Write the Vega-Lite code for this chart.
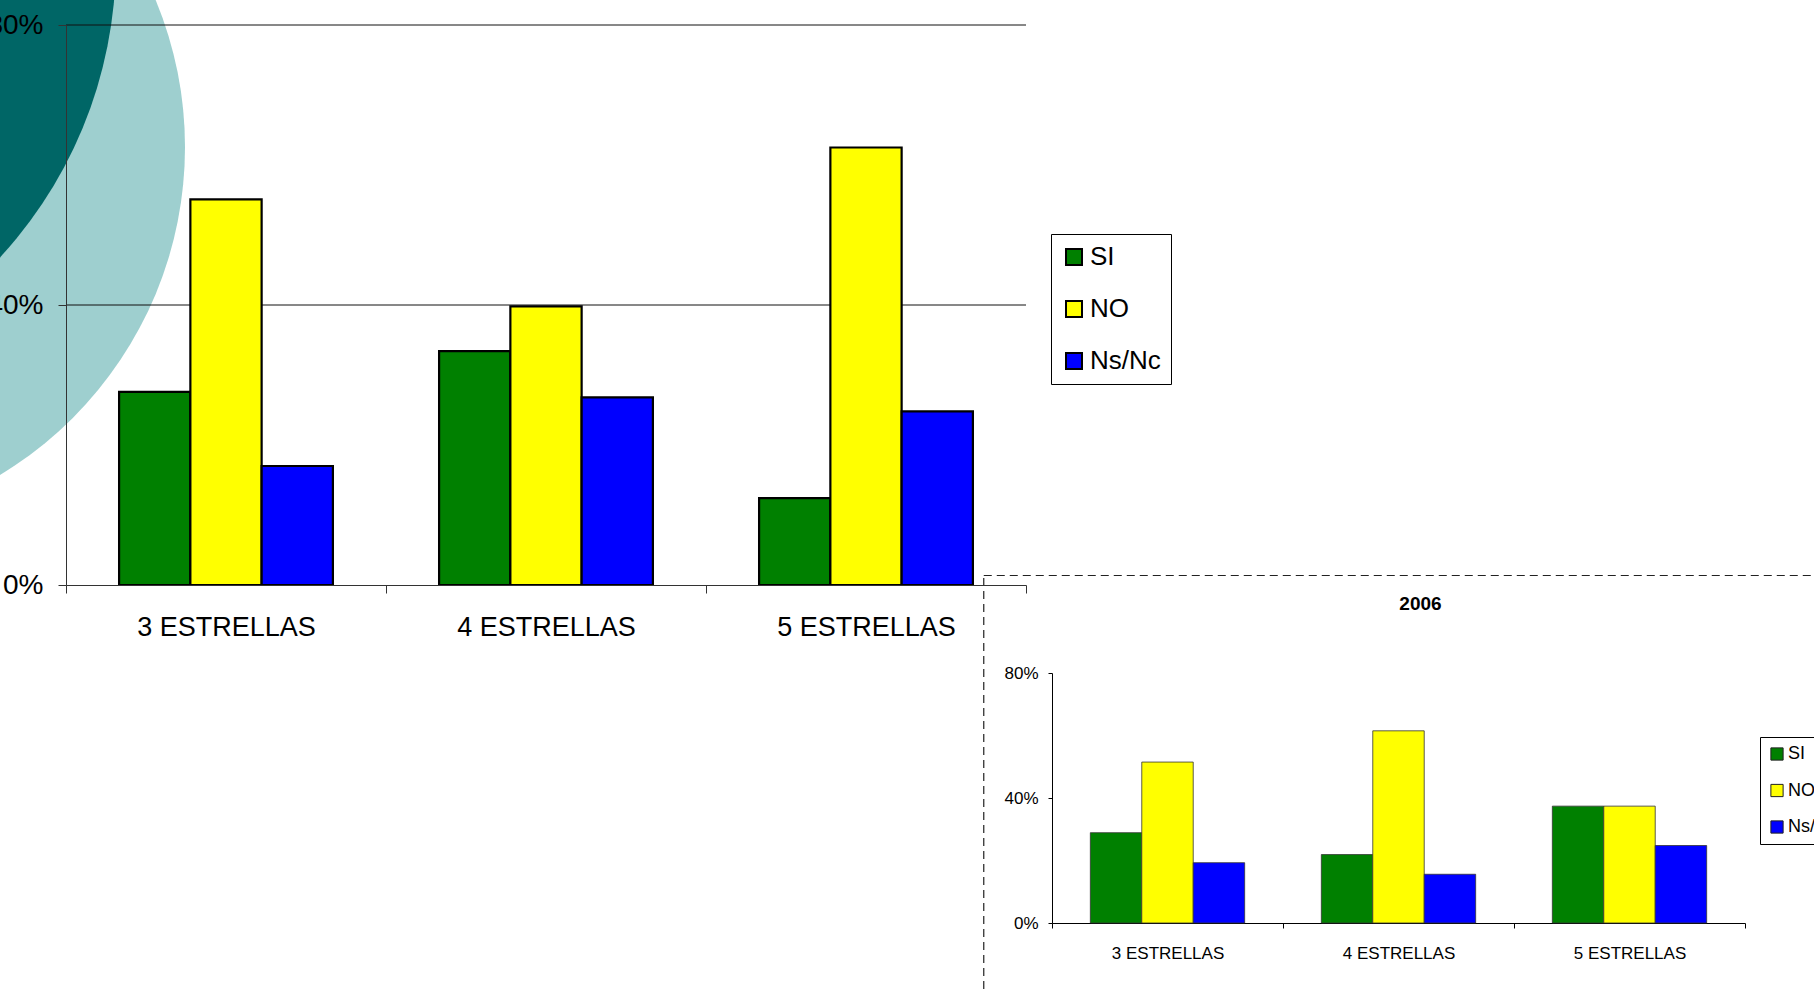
{
  "$schema": "https://vega.github.io/schema/vega-lite/v6.json",
  "width": 960,
  "height": 560,
  "autosize": {"type": "none"},
  "padding": {"left": 66, "top": 25, "right": 788, "bottom": 408},
  "background": "white",
  "config": {"view": {"stroke": null}, "font": "Liberation Sans"},
  "layer": [
    {
      "layer": [
        {
          "data": {"values": [{"forma": "circulo claro"}]},
          "mark": {"type": "point", "shape": "circle", "filled": true, "color": "#9ecfcf", "opacity": 1, "size": 586756, "strokeWidth": 0},
          "encoding": {
            "x": {"datum": -0.275, "type": "quantitative", "scale": {"domain": [0, 1], "nice": false, "zero": false}, "axis": null},
            "y": {"datum": 0.782, "type": "quantitative", "scale": {"domain": [0, 1], "nice": false, "zero": false}, "axis": null}
          }
        },
        {
          "data": {"values": [{"forma": "circulo oscuro"}]},
          "mark": {"type": "point", "shape": "circle", "filled": true, "color": "#006666", "opacity": 1, "size": 762838, "strokeWidth": 0},
          "encoding": {
            "x": {"datum": -0.403, "type": "quantitative"},
            "y": {"datum": 1.114, "type": "quantitative"}
          }
        },
        {
          "data": {"values": [{"forma": "recuadro 2006"}]},
          "mark": {"type": "rect", "filled": false, "stroke": "#222222", "strokeDash": [8, 5], "strokeWidth": 1.2},
          "encoding": {
            "x": {"datum": 0.956, "type": "quantitative"},
            "x2": {"datum": 2},
            "y": {"datum": 0.017, "type": "quantitative"},
            "y2": {"datum": -1}
          }
        }
      ]
    },
    {
      "data": {
        "values": [
          {"categoria": "3 ESTRELLAS", "respuesta": "SI", "valor": 0.276},
          {"categoria": "3 ESTRELLAS", "respuesta": "NO", "valor": 0.551},
          {"categoria": "3 ESTRELLAS", "respuesta": "Ns/Nc", "valor": 0.17},
          {"categoria": "4 ESTRELLAS", "respuesta": "SI", "valor": 0.334},
          {"categoria": "4 ESTRELLAS", "respuesta": "NO", "valor": 0.398},
          {"categoria": "4 ESTRELLAS", "respuesta": "Ns/Nc", "valor": 0.268},
          {"categoria": "5 ESTRELLAS", "respuesta": "SI", "valor": 0.124},
          {"categoria": "5 ESTRELLAS", "respuesta": "NO", "valor": 0.625},
          {"categoria": "5 ESTRELLAS", "respuesta": "Ns/Nc", "valor": 0.248}
        ]
      },
      "layer": [
        {
          "data": {"values": [{"nivel": 0.4}, {"nivel": 0.8}]},
          "mark": {"type": "rule", "color": "#111111", "strokeWidth": 1},
          "encoding": {"y": {"field": "nivel", "type": "quantitative"}}
        },
        {
          "mark": {"type": "bar", "stroke": "black", "strokeWidth": 2.2},
          "encoding": {
            "x": {
              "field": "categoria", "type": "nominal",
              "scale": {"paddingInner": 0, "paddingOuter": 0},
              "axis": {"orient": "bottom", "title": null, "labelAngle": 0, "labelFontSize": 27, "labelFont": "Liberation Sans", "labelColor": "black", "labelLimit": 0, "tickSize": 8, "tickColor": "#333333", "domainColor": "#333333", "labelPadding": 21, "tickBand": "extent", "grid": false, "zindex": 1}
            },
            "xOffset": {"field": "respuesta", "type": "nominal", "scale": {"domain": ["SI", "NO", "Ns/Nc"], "paddingInner": 0, "paddingOuter": 0.745}},
            "y": {
              "field": "valor", "type": "quantitative",
              "scale": {"domain": [0, 0.8], "nice": false},
              "axis": {"orient": "left", "title": null, "values": [0, 0.4, 0.8], "format": ".0%", "labelFontSize": 28, "labelFont": "Liberation Sans", "labelColor": "black", "tickSize": 8, "tickColor": "#333333", "domainColor": "#333333", "labelPadding": 15, "grid": false, "zindex": 1}
            },
            "color": {
              "field": "respuesta", "type": "nominal",
              "scale": {"domain": ["SI", "NO", "Ns/Nc"], "range": ["#008000", "#ffff00", "#0000ff"]},
              "legend": {"orient": "none", "legendX": 985, "legendY": 209, "title": null, "fillColor": "white", "strokeColor": "black", "padding": 10, "symbolType": "square", "symbolSize": 256, "symbolStrokeColor": "black", "symbolStrokeWidth": 2, "symbolOpacity": 1, "labelFontSize": 26, "labelFont": "Liberation Sans", "labelColor": "black", "labelOffset": 3, "rowPadding": 26}
            }
          }
        }
      ]
    },
    {
      "data": {
        "values": [
          {"categoria": "3 ESTRELLAS", "respuesta": "SI", "valor": 0.289},
          {"categoria": "3 ESTRELLAS", "respuesta": "NO", "valor": 0.515},
          {"categoria": "3 ESTRELLAS", "respuesta": "Ns/Nc", "valor": 0.193},
          {"categoria": "4 ESTRELLAS", "respuesta": "SI", "valor": 0.219},
          {"categoria": "4 ESTRELLAS", "respuesta": "NO", "valor": 0.615},
          {"categoria": "4 ESTRELLAS", "respuesta": "Ns/Nc", "valor": 0.156},
          {"categoria": "5 ESTRELLAS", "respuesta": "SI", "valor": 0.374},
          {"categoria": "5 ESTRELLAS", "respuesta": "NO", "valor": 0.374},
          {"categoria": "5 ESTRELLAS", "respuesta": "Ns/Nc", "valor": 0.248}
        ]
      },
      "layer": [
        {
          "mark": {"type": "bar", "stroke": "#333333", "strokeWidth": 0.8},
          "encoding": {
            "x": {
              "field": "categoria", "type": "nominal",
              "scale": {"range": [986, 1679], "paddingInner": 0, "paddingOuter": 0},
              "axis": {"orient": "bottom", "offset": 338, "title": null, "labelAngle": 0, "labelFontSize": 17, "labelFont": "Liberation Sans", "labelColor": "black", "labelLimit": 0, "tickSize": 5, "tickColor": "black", "domainColor": "black", "labelPadding": 17, "tickBand": "extent", "grid": false}
            },
            "xOffset": {"field": "respuesta", "type": "nominal", "scale": {"domain": ["SI", "NO", "Ns/Nc"], "paddingInner": 0, "paddingOuter": 0.745}},
            "y": {
              "field": "valor", "type": "quantitative",
              "scale": {"domain": [0, 0.8], "range": [898, 648], "nice": false},
              "axis": {"orient": "left", "offset": -986, "title": null, "values": [0, 0.4, 0.8], "format": ".0%", "labelFontSize": 17, "labelFont": "Liberation Sans", "labelColor": "black", "tickSize": 4, "tickColor": "black", "domainColor": "black", "labelPadding": 10, "grid": false}
            },
            "color": {
              "field": "respuesta", "type": "nominal",
              "scale": {"domain": ["SI", "NO", "Ns/Nc"], "range": ["#008000", "#ffff00", "#0000ff"]},
              "legend": {"orient": "none", "legendX": 1694, "legendY": 712, "title": null, "fillColor": "white", "strokeColor": "black", "padding": 8, "symbolType": "square", "symbolSize": 150, "symbolStrokeColor": "#222222", "symbolStrokeWidth": 1, "symbolOpacity": 1, "labelFontSize": 18, "labelFont": "Liberation Sans", "labelColor": "black", "labelOffset": 2, "rowPadding": 18.5}
            }
          }
        },
        {
          "data": {"values": [{"anio": "2006"}]},
          "mark": {"type": "text", "font": "Liberation Sans", "fontWeight": "bold", "fontSize": 19, "color": "black", "dx": 22},
          "encoding": {
            "x": {"datum": "4 ESTRELLAS"},
            "y": {"datum": 1.02},
            "text": {"field": "anio"}
          }
        }
      ]
    }
  ],
  "resolve": {
    "scale": {"x": "independent", "y": "independent", "xOffset": "independent", "color": "independent"},
    "axis": {"x": "independent", "y": "independent"},
    "legend": {"color": "independent"}
  }
}
